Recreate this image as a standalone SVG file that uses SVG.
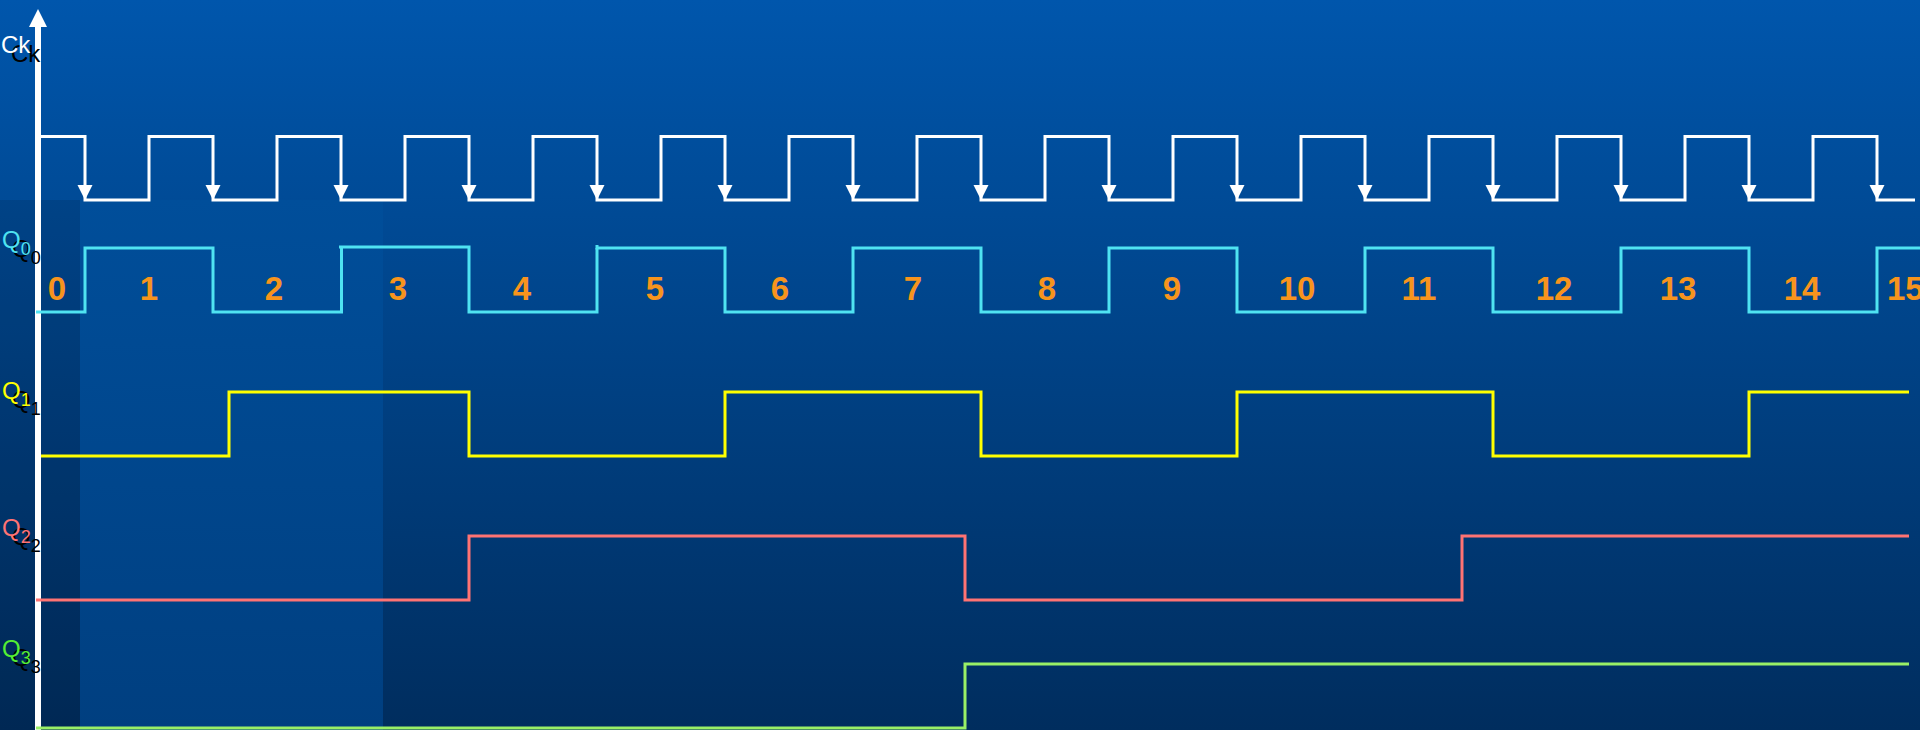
<svg xmlns="http://www.w3.org/2000/svg" xmlns:xlink="http://www.w3.org/1999/xlink" width="1920" height="730" viewBox="0 0 1920 730">
  <defs>
    <linearGradient id="bg" x1="0" y1="0" x2="0" y2="1">
      <stop offset="0" stop-color="#0056AC"/>
      <stop offset="1" stop-color="#002D5E"/>
    </linearGradient>
    <linearGradient id="hl" x1="0" y1="0" x2="0" y2="1">
      <stop offset="0" stop-color="#004E9A"/>
      <stop offset="1" stop-color="#003F80"/>
    </linearGradient>
    <path id="ah" d="M-7.5,-15 L7.5,-15 L0,0 Z" fill="#FFFFFF"/>
    <style>
      .wave { fill: none; stroke-width: 3; stroke-linejoin: miter; stroke-linecap: butt; }
      .num { font-family: "Liberation Sans", Arial, sans-serif; font-weight: bold; font-size: 33px; fill: #F7941D; text-anchor: middle; }
      .lbl { font-family: "Liberation Sans", Arial, sans-serif; font-size: 24px; }
      .sub { font-size: 18px; }
      .shadow { fill: #000000; }
    </style>
  </defs>

  <!-- background -->
  <rect x="0" y="0" width="1920" height="730" fill="url(#bg)"/>
  <rect x="0" y="200" width="80" height="530" fill="#000000" fill-opacity="0.1"/>
  <rect x="80" y="200" width="303" height="530" fill="url(#hl)"/>

  <!-- axis -->
  <g id="connectors">
    <line x1="38" y1="25" x2="38" y2="730" stroke="#FFFFFF" stroke-width="6"/>
    <polygon points="38,9 47,27 29,27" fill="#FFFFFF"/>
  </g>

  <g id="ck">
    <path class="wave" stroke="#FFFFFF" stroke-width="2.5" d="M41,136.5 H85 V200 H149 V136.5 H213 V200 H277 V136.5 H341 V200 H405 V136.5 H469 V200 H533 V136.5 H597 V200 H661 V136.5 H725 V200 H789 V136.5 H853 V200 H917 V136.5 H981 V200 H1045 V136.5 H1109 V200 H1173 V136.5 H1237 V200 H1301 V136.5 H1365 V200 H1429 V136.5 H1493 V200 H1557 V136.5 H1621 V200 H1685 V136.5 H1749 V200 H1813 V136.5 H1877 V200 H1915"/>
    <use xlink:href="#ah" x="85" y="200"/>
    <use xlink:href="#ah" x="213" y="200"/>
    <use xlink:href="#ah" x="341" y="200"/>
    <use xlink:href="#ah" x="469" y="200"/>
    <use xlink:href="#ah" x="597" y="200"/>
    <use xlink:href="#ah" x="725" y="200"/>
    <use xlink:href="#ah" x="853" y="200"/>
    <use xlink:href="#ah" x="981" y="200"/>
    <use xlink:href="#ah" x="1109" y="200"/>
    <use xlink:href="#ah" x="1237" y="200"/>
    <use xlink:href="#ah" x="1365" y="200"/>
    <use xlink:href="#ah" x="1493" y="200"/>
    <use xlink:href="#ah" x="1621" y="200"/>
    <use xlink:href="#ah" x="1749" y="200"/>
    <use xlink:href="#ah" x="1877" y="200"/>
    <text class="lbl shadow" x="11" y="62" font-size="26">Ck</text>
    <text class="lbl" x="1" y="53" font-size="26" fill="#FFFFFF">Ck</text>
  </g>

  <g id="q0">
    <path class="wave" stroke="#4FE3F2" d="M36,312 H85 V248 H213 V312 H341.5 V248"/>
    <path class="wave" stroke="#4FE3F2" d="M339,247 H469 V312 H597 V248"/>
    <path class="wave" stroke="#4FE3F2" d="M597,245 V248 H725 V312 H853 V248 H981 V312 H1109 V248 H1237 V312 H1365 V248 H1493 V312 H1621 V248 H1749 V312 H1877 V248 H1920"/>
    <text class="lbl shadow" x="12" y="257">Q<tspan class="sub" dy="7">0</tspan></text>
    <text class="lbl" x="2" y="248" fill="#4FE3F2">Q<tspan class="sub" dy="7">0</tspan></text>
  </g>

  <g id="counts">
    <text class="num" x="57" y="300">0</text>
    <text class="num" x="149" y="300">1</text>
    <text class="num" x="274" y="300">2</text>
    <text class="num" x="398" y="300">3</text>
    <text class="num" x="522" y="300">4</text>
    <text class="num" x="655" y="300">5</text>
    <text class="num" x="780" y="300">6</text>
    <text class="num" x="913" y="300">7</text>
    <text class="num" x="1047" y="300">8</text>
    <text class="num" x="1172" y="300">9</text>
    <text class="num" x="1297" y="300">10</text>
    <text class="num" x="1419" y="300">11</text>
    <text class="num" x="1554" y="300">12</text>
    <text class="num" x="1678" y="300">13</text>
    <text class="num" x="1802" y="300">14</text>
    <text class="num" x="1887" y="300" style="text-anchor:start">15</text>
  </g>

  <g id="q1">
    <path class="wave" stroke="#FFFF00" d="M41,456 H229 V392 H469 V456 H725 V392 H981 V456 H1237 V392 H1493 V456 H1749 V392 H1909"/>
    <text class="lbl shadow" x="12" y="408">Q<tspan class="sub" dy="7">1</tspan></text>
    <text class="lbl" x="2" y="399" fill="#FFFF00">Q<tspan class="sub" dy="7">1</tspan></text>
  </g>

  <g id="q2">
    <path class="wave" stroke="#FF7373" d="M36,600 H469 V536 H965 V600 H1462 V536 H1909"/>
    <text class="lbl shadow" x="12" y="545">Q<tspan class="sub" dy="7">2</tspan></text>
    <text class="lbl" x="2" y="536" fill="#FF7373">Q<tspan class="sub" dy="7">2</tspan></text>
  </g>

  <g id="q3">
    <path class="wave" stroke="#99F066" d="M36,728 H965 V664 H1909"/>
    <text class="lbl shadow" x="12" y="666">Q<tspan class="sub" dy="7">3</tspan></text>
    <text class="lbl" x="2" y="657" fill="#55EE33">Q<tspan class="sub" dy="7">3</tspan></text>
  </g>
</svg>
